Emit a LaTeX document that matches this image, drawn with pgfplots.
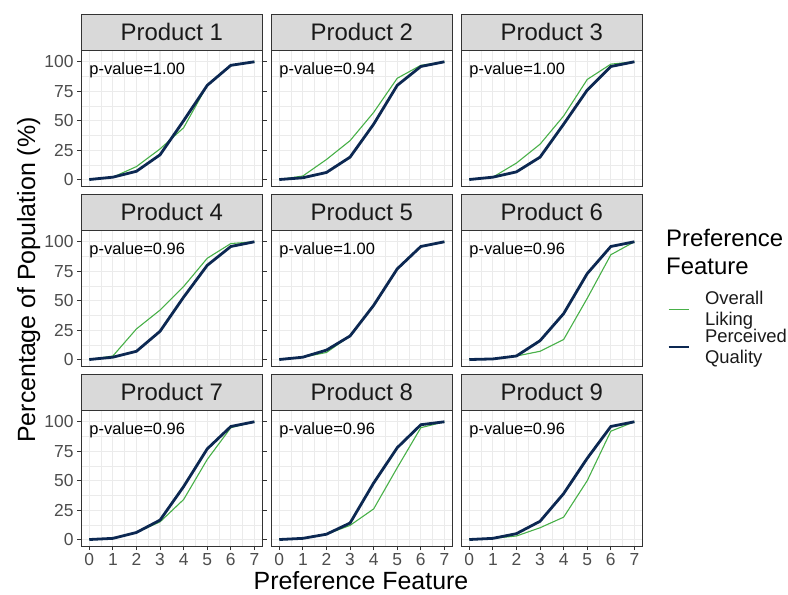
\documentclass[border=0pt]{standalone}
\usepackage{pgfplots}
\usepackage{pgfplotstable}
\pgfplotsset{compat=1.18}
\usepackage{fontspec}
\setmainfont{Liberation Sans}
\definecolor{grey92}{HTML}{EBEBEB}
\definecolor{grey85}{HTML}{D9D9D9}
\definecolor{grey20}{HTML}{333333}
\definecolor{grey30}{HTML}{4D4D4D}
\definecolor{grey10}{HTML}{1A1A1A}
\definecolor{liking}{RGB}{72,176,72}
\definecolor{quality}{RGB}{12,40,82}

\pgfplotstableread{
x lik qual
0 0 0
1 2 2
2 11 7
3 26 21
4 44 50
5 80 80
6 97 97
7 100 100
}\tA
\pgfplotstableread{
x lik qual
0 0 0
1 3 1.5
2 17 6
3 33 19
4 57 47
5 86 80
6 97 96
7 100 100
}\tB
\pgfplotstableread{
x lik qual
0 0 0
1 2 2
2 14 6.5
3 30 19
4 54 47
5 85 76
6 98 96
7 100 100
}\tC
\pgfplotstableread{
x lik qual
0 0 0
1 3 2
2 26 7
3 42 24
4 62 53
5 86 80
6 98.5 96
7 100 100
}\tD
\pgfplotstableread{
x lik qual
0 0 0
1 2 2
2 6 8
3 20 20
4 46 46
5 77 77
6 96 96
7 100 100
}\tE
\pgfplotstableread{
x lik qual
0 0 0
1 0.5 0.5
2 3 3
3 7 16
4 17 39
5 52 73
6 89 96
7 100 100
}\tF
\pgfplotstableread{
x lik qual
0 0 0
1 1 1
2 6 6
3 15 16.5
4 34 45
5 68 77
6 95 96
7 100 100
}\tG
\pgfplotstableread{
x lik qual
0 0 0
1 1 1
2 4.5 4.5
3 12 14
4 26 48
5 61 78
6 95 97.5
7 100 100
}\tH
\pgfplotstableread{
x lik qual
0 0 0
1 1 1
2 3 5
3 10 15.5
4 19 39
5 50 69
6 92 96
7 100 100
}\tI

\pgfplotsset{
  legend image code/.code={\draw[#1] (0bp,0bp) -- (20bp,0bp);},
  panel/.style={
    scale only axis, width=181.7bp, height=136bp, anchor=south west,
    xmin=-0.35, xmax=7.35, ymin=-5.5, ymax=110,
    xtick={0,...,7}, ytick={0,25,50,75,100},
    minor xtick={0.5,1.5,...,6.5}, minor ytick={12.5,37.5,62.5,87.5},
    grid=both,
    major grid style={draw=grey92, line width=1.1bp},
    minor grid style={draw=grey92, line width=0.55bp},
    axis line style={draw=grey20, line width=0.8bp},
    tick style={draw=grey20, line width=0.8bp},
    tick align=outside, major tick length=4bp, minor tick length=0pt,
    /pgf/number format/assume math mode=true,
    tick label style={font=\fontsize{17.5}{17.5}\selectfont, text=grey30},
    clip=false,
  },
  inner x/.style={xmajorticks=false},
  inner y/.style={ymajorticks=false},
}

\newcommand{\panel}[6]{%
\begin{axis}[panel, at={(#1bp,#2bp)}, #6]
\addplot[liking, line width=1.1bp] table[x=x,y=lik]{#3};
\addplot[quality, line width=2.8bp] table[x=x,y=qual]{#3};
\draw[fill=grey85, draw=grey20, line width=0.8bp] (axis description cs:0,1) rectangle (axis description cs:1,1.2647);
\node[font=\fontsize{24}{24}\selectfont, text=grey10, inner sep=0pt] at (axis description cs:0.5,1.1324) {#4};
\node[font=\fontsize{16.5}{16.5}\selectfont, text=black, inner sep=0pt, anchor=west] at (axis cs:0,93) {p-value=#5};
\end{axis}}

\begin{document}
\begin{tikzpicture}
\useasboundingbox (0,0) rectangle (788bp,-595bp);
\panel{81}{-186}{\tA}{Product 1}{1.00}{inner x}
\panel{271}{-186}{\tB}{Product 2}{0.94}{inner x, inner y}
\panel{461}{-186}{\tC}{Product 3}{1.00}{inner x, inner y}
\panel{81}{-366}{\tD}{Product 4}{0.96}{inner x}
\panel{271}{-366}{\tE}{Product 5}{1.00}{inner x, inner y}
\panel{461}{-366}{\tF}{Product 6}{0.96}{inner x, inner y,
  legend entries={{Overall\\Liking},{Perceived\\Quality}},
  legend cell align=left,
  legend style={at={(axis description cs:1.134,0.55)}, anchor=north west, draw=none, fill=none, inner sep=0pt, row sep=2bp,
    font=\fontsize{18.5}{21}\selectfont, nodes={align=left, inner sep=0pt, text=grey10}, column sep=15bp}}
\panel{81}{-546}{\tG}{Product 7}{0.96}{}
\panel{271}{-546}{\tH}{Product 8}{0.96}{inner y}
\panel{461}{-546}{\tI}{Product 9}{0.96}{inner y}
\node[anchor=base, font=\fontsize{25}{25}\selectfont, text=black, inner sep=0pt] at (361bp,-589bp) {Preference Feature};
\node[anchor=base, rotate=90, font=\fontsize{25}{25}\selectfont, text=black, inner sep=0pt] at (35bp,-280bp) {Percentage of Population (\%)};
\node[anchor=base west, font=\fontsize{24}{24}\selectfont, text=black, inner sep=0pt] at (666bp,-246.7bp) {Preference};
\node[anchor=base west, font=\fontsize{24}{24}\selectfont, text=black, inner sep=0pt] at (666bp,-274bp) {Feature};
\end{tikzpicture}
\end{document}
